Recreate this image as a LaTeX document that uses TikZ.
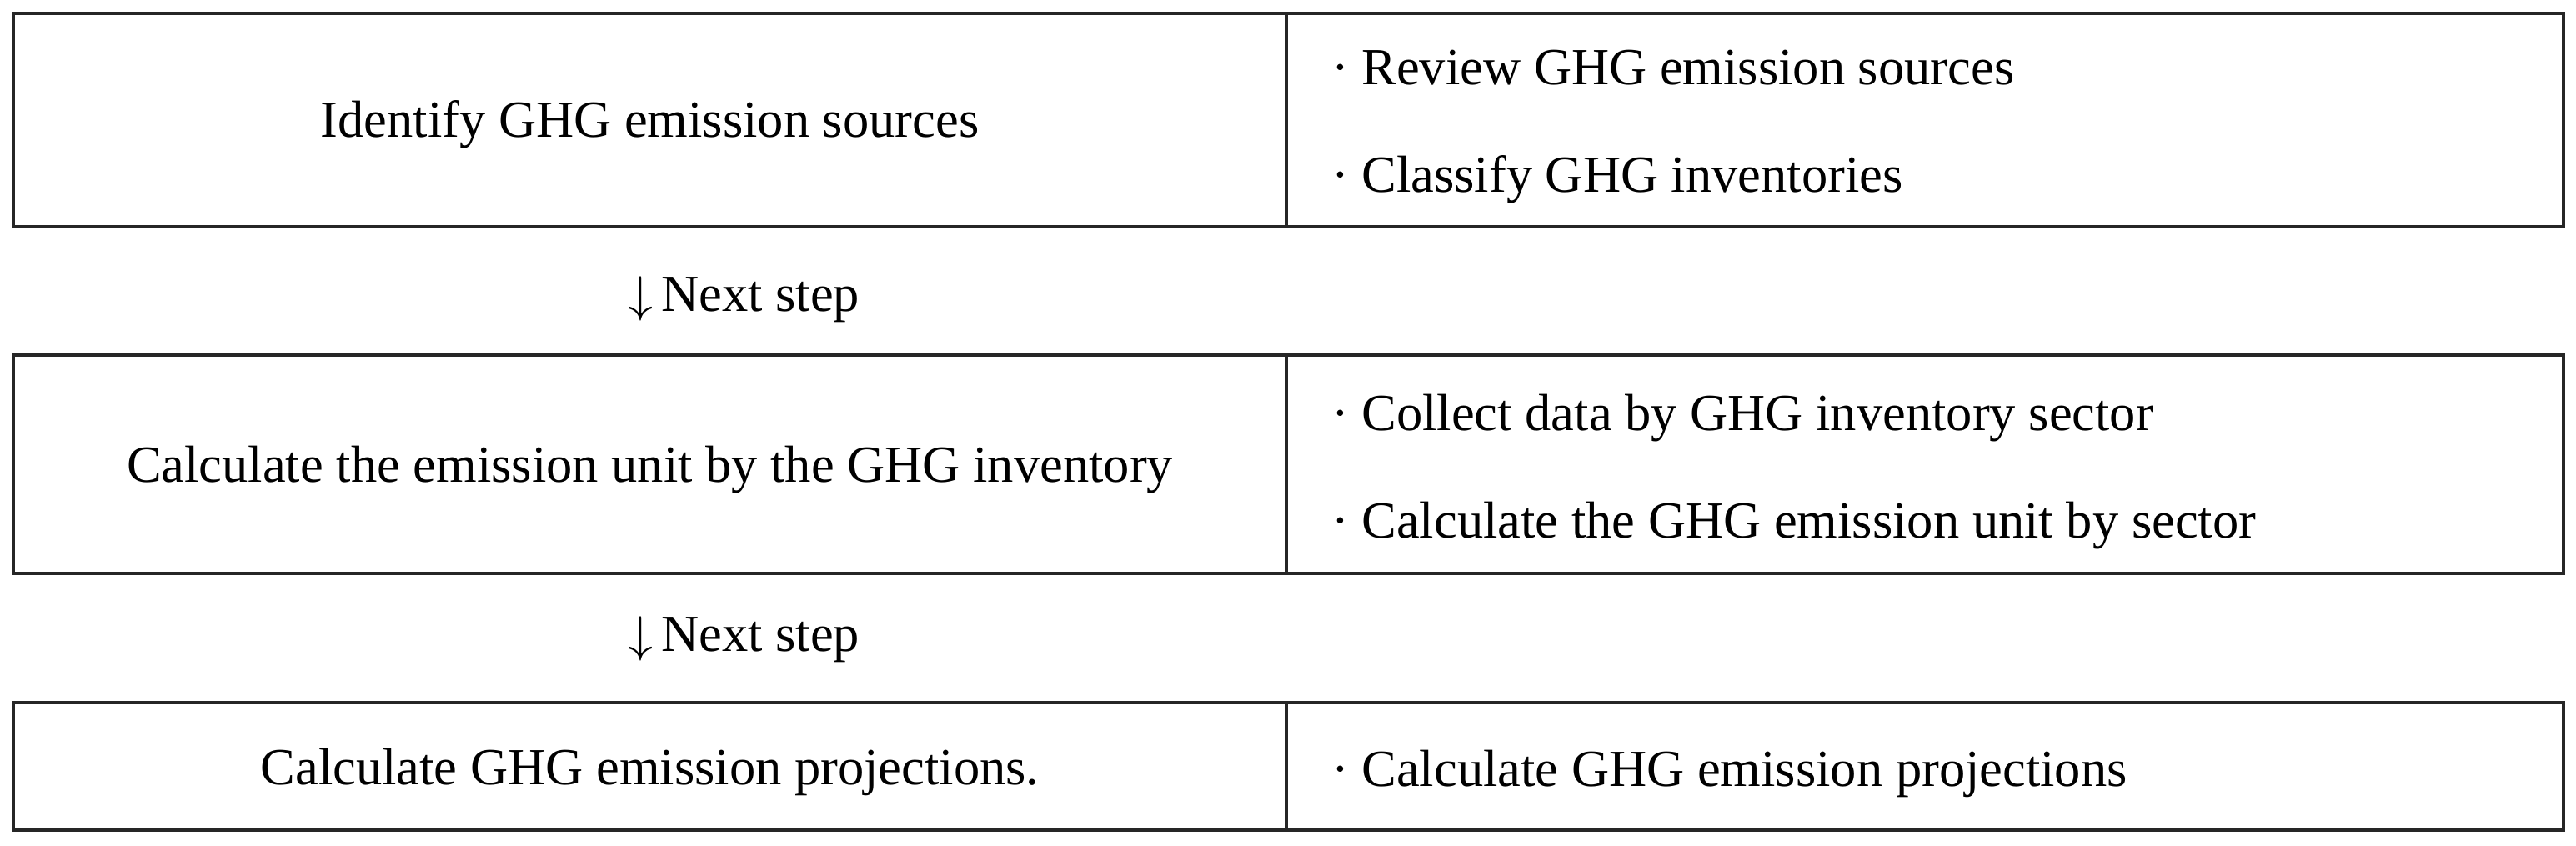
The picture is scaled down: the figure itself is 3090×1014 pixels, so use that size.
\documentclass[tikz,border=0pt]{standalone}
\usepackage{fontspec}
\setmainfont{Liberation Serif}
\usetikzlibrary{fit}
\begin{document}
\begin{tikzpicture}[x=0.2pt,y=-0.2pt,
  cell/.style={draw=black!85, line width=0.62pt, inner sep=0pt},
  txt/.style={inner sep=0pt, font=\fontsize{12.5}{15}\selectfont},
  mid/.style={txt, anchor=base},
  item/.style={txt, anchor=base west},
  nextlbl/.style={txt, anchor=base west}]
\useasboundingbox (0,0) rectangle (3090,1014);
% row 1
\node[cell, fit={(16,16) (1543,272)}] (l1) {};
\node[cell, fit={(1543,16) (3075,272)}] (r1) {};
\node[mid] (t1) at (779.5,164) {Identify GHG emission sources};
\node[item] (a1) at (1596,101) {· Review GHG emission sources};
\node[item] (a2) at (1596,230) {· Classify GHG inventories};
\node[nextlbl] (n1) at (752,373) {$\downarrow$\,Next step};
% row 2
\node[cell, fit={(16,426) (1543,688)}] (l2) {};
\node[cell, fit={(1543,426) (3075,688)}] (r2) {};
\node[mid] (t2) at (779.5,578) {Calculate the emission unit by the GHG inventory};
\node[item] (b1) at (1596,516) {· Collect data by GHG inventory sector};
\node[item] (b2) at (1596,645) {· Calculate the GHG emission unit by sector};
\node[nextlbl] (n2) at (752,781) {$\downarrow$\,Next step};
% row 3
\node[cell, fit={(16,843) (1543,996)}] (l3) {};
\node[cell, fit={(1543,843) (3075,996)}] (r3) {};
\node[mid] (t3) at (779.5,941) {Calculate GHG emission projections.};
\node[item] (c1) at (1596,943) {· Calculate GHG emission projections};
\end{tikzpicture}
\end{document}
